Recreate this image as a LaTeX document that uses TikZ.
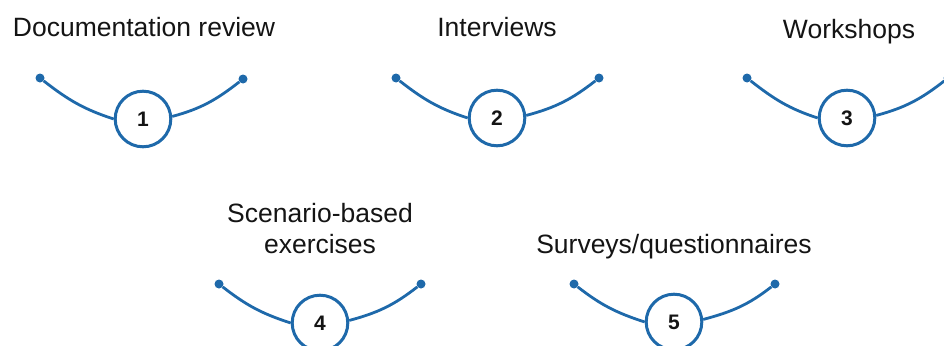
\documentclass[tikz,border=0pt]{standalone}
\usepackage{fontspec}
\setmainfont{Liberation Sans}
\definecolor{arcblue}{RGB}{30,105,170}
\definecolor{inkblack}{RGB}{20,20,20}
\begin{document}
\begin{tikzpicture}[x=1pt,y=1pt,
  numcircle/.style={circle,draw=arcblue,line width=3pt,fill=white,
    minimum size=55.6pt,inner sep=0pt,text=inkblack,
    font=\fontsize{21}{21}\selectfont\bfseries},
  enddot/.style={circle,fill=arcblue,minimum size=9pt,inner sep=0pt},
  arcline/.style={draw=arcblue,line width=2.8pt},
  caption/.style={anchor=base,align=center,text=inkblack,
    font=\fontsize{26.5}{31}\selectfont}]
\useasboundingbox (0,0) rectangle (944,-345);

% --- step 1
\node[caption] (t1) at (144,-37) {Documentation review};
\node[enddot] (l1) at (40,-78) {};
\node[enddot] (r1) at (243,-79) {};
\node[numcircle] (n1) at (143,-119) {1};
% --- step 2
\node[caption] (t2) at (497,-37) {Interviews};
\node[enddot] (l2) at (396,-78) {};
\node[enddot] (r2) at (599,-78) {};
\node[numcircle] (n2) at (497,-118) {2};
% --- step 3
\node[caption] (t3) at (849,-38) {Workshops};
\node[enddot] (l3) at (747,-78) {};
\node[enddot] (r3) at (948,-78) {};
\node[numcircle] (n3) at (847,-118) {3};
% --- step 4 (two-line caption, anchored on its last line)
\node[caption] (t4) at (320,-253) {Scenario-based\\exercises};
\node[enddot] (l4) at (219,-284) {};
\node[enddot] (r4) at (421,-284) {};
\node[numcircle] (n4) at (320,-323) {4};
% --- step 5
\node[caption] (t5) at (674,-253) {Surveys/questionnaires};
\node[enddot] (l5) at (574,-284) {};
\node[enddot] (r5) at (775,-284) {};
\node[numcircle] (n5) at (674,-322) {5};

% hanging arcs through each numbered circle
\foreach \k in {1,...,5}{
  \draw[arcline] (l\k) to[out=-38,in=162] (n\k.west);
  \draw[arcline] (n\k.5) to[out=15,in=-142] (r\k);
}
\end{tikzpicture}
\end{document}
